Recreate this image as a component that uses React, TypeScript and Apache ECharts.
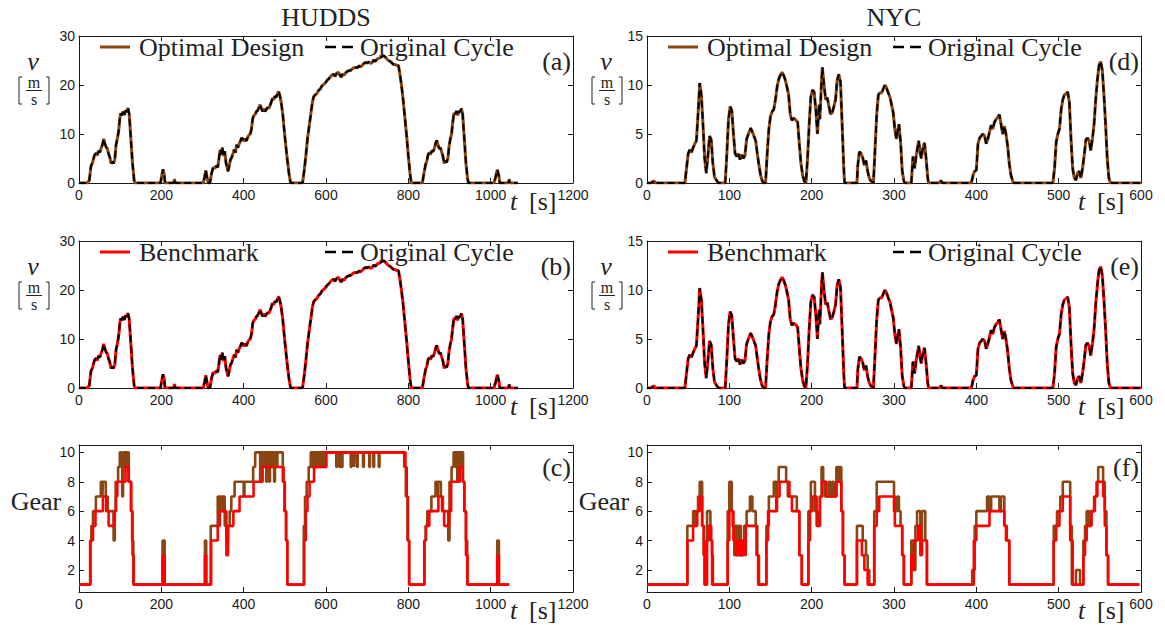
import React, { useEffect, useRef } from "react";
import * as echarts from "echarts";

// ---------- DATA ----------
const cycleTitles = ["HUDDS", "NYC"];
const panelLetters = ["(a)", "(b)", "(c)", "(d)", "(e)", "(f)"];
const huddsTimeTicks = { min: 0, max: 1200, interval: 200 };
const nycTimeTicks = { min: 0, max: 600, interval: 100 };
const huddsSpeedTicks = { min: 0, max: 30, interval: 10 };
const nycSpeedTicks = { min: 0, max: 15, interval: 5 };
const gearTicks = [2, 4, 6, 8, 10];

// HUDDS speed trace [t s, v m/s]
const huddsVelocity: [number, number][] = [
  [0, 0], [20, 0], [25, 0.5], [29, 3.4], [33, 4.2], [37, 5.5], [41, 6.1], [44, 5.6], [47, 6.5], [51, 6.3], [54, 7.2], [57, 7.8], [60, 9.0], [63, 8.0], [66, 7.3], [69, 7.0], [72, 5.9], [75, 5.2], [78, 4.0], [81, 4.4], [84, 4.0], [87, 4.8], [90, 7.8], [93, 9.0], [96, 10.4], [99, 13.0], [101, 14.2], [104, 13.8], [107, 14.6], [110, 13.9], [113, 14.8], [116, 14.5], [119, 15.3], [122, 14.0], [126, 9.0], [130, 4.0], [134, 0.5], [136, 0],
  [198, 0], [201, 1.5], [204, 2.8], [207, 1.8], [209, 0], [230, 0], [232, 0.8], [234, 0],
  [302, 0], [305, 1.2], [308, 2.6], [311, 1.2], [314, 0], [318, 0], [322, 2.0], [326, 3.2], [330, 3.0], [334, 3.5], [337, 3.2], [340, 5.0], [343, 6.8], [346, 5.8], [348, 7.2], [351, 5.5], [354, 6.5], [357, 4.2], [360, 3.0], [362, 2.4], [365, 3.5], [368, 4.8], [371, 5.2], [374, 6.0], [377, 6.8], [380, 6.2], [383, 7.8], [386, 7.2], [389, 8.0], [392, 8.5], [395, 9.2], [398, 9.0], [401, 8.5], [404, 9.0], [407, 8.6], [410, 9.4], [413, 9.8], [416, 10.0], [419, 11.0], [422, 13.2], [425, 13.8], [428, 14.0], [431, 14.6], [434, 14.8], [437, 15.4], [440, 16.0], [443, 15.2], [446, 14.6], [449, 15.2], [452, 14.6], [455, 15.0], [458, 15.4], [461, 15.2], [464, 15.8], [467, 16.5], [470, 17.3], [473, 17.0], [476, 17.7], [479, 17.5], [482, 18.2], [485, 18.7], [488, 17.8], [491, 16.5], [495, 14.0], [500, 9.5], [505, 5.5], [510, 2.0], [514, 0],
  [543, 0], [547, 2.5], [551, 5.5], [555, 9.0], [559, 11.5], [563, 14.0], [567, 16.5], [570, 17.6], [574, 18.0], [578, 18.3], [582, 18.9], [586, 19.2], [590, 19.8], [594, 20.1], [598, 20.4], [602, 20.9], [606, 21.2], [610, 21.6], [614, 22.0], [618, 22.2], [622, 21.8], [626, 22.4], [630, 22.6], [634, 22.0], [637, 21.6], [640, 22.2], [644, 22.0], [648, 22.5], [652, 22.8], [656, 22.9], [660, 23.0], [664, 23.3], [668, 23.5], [672, 23.6], [676, 23.5], [680, 23.9], [684, 23.7], [688, 24.0], [692, 24.4], [696, 24.6], [700, 24.5], [704, 24.7], [708, 24.4], [712, 24.6], [716, 25.1], [720, 24.8], [724, 25.3], [728, 25.4], [732, 25.6], [736, 25.8], [740, 26.0], [744, 25.7], [748, 25.3], [752, 25.0], [756, 24.8], [760, 24.5], [764, 24.2], [768, 24.2], [772, 24.0], [776, 24.0], [780, 22.0], [784, 19.5], [788, 16.5], [792, 13.0], [796, 9.5], [800, 5.5], [804, 2.0], [807, 0],
  [834, 0], [838, 2.0], [842, 3.8], [845, 4.5], [848, 5.8], [851, 6.2], [854, 5.8], [857, 6.6], [860, 6.4], [863, 7.0], [866, 8.0], [869, 8.7], [872, 7.8], [875, 7.0], [878, 7.2], [881, 6.3], [884, 5.5], [887, 4.0], [890, 4.5], [893, 4.2], [896, 5.0], [899, 7.5], [902, 9.0], [905, 10.0], [908, 12.5], [911, 14.3], [914, 14.0], [917, 14.7], [920, 13.8], [923, 14.6], [926, 14.5], [929, 15.2], [932, 14.0], [936, 9.0], [940, 4.0], [944, 0.8], [946, 0],
  [1008, 0], [1012, 1.2], [1016, 2.7], [1020, 1.5], [1022, 0], [1043, 0], [1045, 0.7], [1047, 0], [1066, 0],
];

// NYC speed trace [t s, v m/s]
const nycVelocity: [number, number][] = [
  [0, 0], [5, 0], [8, 0.2], [11, 0], [46, 0], [48, 1.5], [50, 3.0], [52, 3.4], [54, 3.1], [56, 3.6], [58, 4.0], [60, 4.3], [62, 7.0], [64, 10.2], [66, 9.0], [68, 6.0], [70, 2.5], [72, 1.0], [74, 2.8], [76, 4.8], [78, 4.4], [80, 2.0], [82, 0.6], [85, 0.2], [87, 0],
  [95, 0], [97, 3.0], [99, 6.5], [101, 7.8], [103, 7.4], [105, 5.0], [107, 3.0], [109, 2.7], [111, 3.0], [113, 2.4], [115, 2.9], [117, 2.5], [119, 2.8], [121, 4.5], [124, 5.2], [126, 5.6], [129, 5.0], [132, 4.3], [134, 3.0], [136, 1.8], [138, 0.8], [140, 0.2], [142, 0],
  [144, 0], [146, 3.0], [148, 5.5], [150, 6.8], [152, 7.3], [154, 7.5], [156, 8.5], [158, 9.8], [160, 10.6], [162, 11.0], [164, 11.3], [166, 11.0], [168, 10.5], [170, 9.8], [172, 9.0], [174, 7.0], [176, 6.4], [178, 6.6], [180, 6.5], [183, 6.2], [185, 4.0], [187, 2.0], [189, 0.8], [191, 0.2], [193, 0],
  [195, 2.5], [197, 6.0], [199, 8.8], [201, 9.5], [203, 9.3], [205, 7.5], [207, 5.0], [209, 8.0], [210, 6.5], [212, 10.5], [213, 11.8], [215, 10.0], [217, 8.5], [219, 8.7], [221, 7.8], [223, 7.0], [225, 7.2], [227, 7.8], [229, 8.5], [231, 10.5], [233, 11.1], [235, 10.3], [237, 6.0], [239, 1.5], [240, 0],
  [255, 0], [256, 1.8], [258, 3.2], [260, 3.0], [262, 2.6], [264, 1.8], [266, 2.3], [268, 1.2], [270, 0.5], [272, 0.2], [275, 0],
  [277, 3.5], [279, 7.0], [281, 9.0], [283, 9.2], [285, 9.2], [287, 9.6], [289, 10.0], [291, 9.7], [293, 9.2], [295, 8.8], [297, 8.0], [299, 7.2], [301, 5.5], [303, 4.5], [305, 5.5], [306, 6.0], [308, 4.2], [310, 1.2], [312, 0.2], [313, 0],
  [321, 0], [323, 2.7], [325, 1.5], [327, 2.8], [329, 3.8], [330, 4.3], [332, 3.0], [333, 2.5], [335, 3.5], [337, 4.1], [339, 2.5], [341, 0.5], [342, 0], [355, 0], [357, 0.25], [359, 0],
  [394, 0], [396, 0.8], [398, 1.2], [400, 1.3], [402, 4.0], [404, 4.6], [406, 4.8], [408, 5.0], [410, 4.8], [412, 4.0], [414, 4.5], [416, 5.2], [418, 5.9], [420, 5.5], [422, 6.2], [424, 6.5], [426, 6.7], [428, 7.0], [430, 6.0], [432, 5.0], [434, 5.8], [436, 5.0], [438, 3.8], [440, 2.0], [442, 0.8], [445, 0],
  [493, 0], [495, 1.5], [497, 4.2], [499, 5.0], [501, 5.5], [503, 7.5], [505, 8.5], [507, 9.0], [509, 9.1], [511, 9.3], [513, 8.2], [515, 4.5], [517, 1.5], [519, 0.5], [521, 0.3], [523, 1.0], [525, 1.2], [527, 0.5], [529, 1.5], [531, 2.8], [533, 4.4], [535, 4.6], [537, 4.3], [539, 3.3], [541, 4.5], [543, 6.0], [545, 8.5], [547, 10.5], [549, 12.0], [551, 12.4], [553, 11.5], [555, 9.0], [557, 6.0], [559, 2.5], [561, 0.5], [563, 0], [600, 0],
];

// Gear change points [t s, gear held from t]
const huddsGearBenchmark: [number, number][] = [
  [0, 1], [28, 4], [34, 5], [40, 6], [58, 7], [66, 6], [72, 5], [85, 6], [90, 7], [93, 8], [113, 9], [120, 8], [127, 6], [130, 3], [133, 1],
  [203, 3], [208, 1],
  [306, 3], [309, 1], [321, 4], [337, 5], [342, 6], [358, 3], [362, 5], [375, 6], [390, 7], [424, 8], [446, 9], [497, 8], [500, 6], [503, 4], [506, 1],
  [547, 4], [551, 6], [555, 7], [560, 8], [571, 9], [601, 10], [793, 9], [796, 7], [799, 4], [802, 1],
  [839, 4], [843, 5], [851, 6], [873, 7], [882, 6], [887, 5], [899, 6], [904, 8], [925, 9], [932, 8], [936, 6], [940, 3], [944, 1],
  [1016, 3], [1020, 1], [1045, 1],
];
const huddsGearOptimal: [number, number][] = [
  [0, 1], [27, 4], [30, 5], [34, 6], [41, 7], [53, 8], [57, 7], [58, 8], [65, 7], [70, 6], [84, 4], [87, 6], [89, 8], [95, 9], [99, 10], [103, 9], [105, 7], [107, 10], [111, 9], [113, 10], [117, 9], [119, 10], [121, 8], [126, 6], [129, 4], [132, 1],
  [203, 4], [208, 1],
  [306, 4], [309, 1], [320, 5], [337, 7], [339, 6], [341, 7], [343, 6], [345, 7], [348, 6], [350, 7], [354, 5], [358, 4], [362, 5], [366, 6], [370, 7], [378, 8], [400, 7], [402, 8], [423, 9], [428, 10], [440, 8], [442, 10], [447, 9], [449, 10], [455, 8], [457, 10], [462, 8], [464, 10], [468, 9], [470, 10], [474, 8], [476, 10], [480, 9], [482, 10], [495, 8], [499, 6], [503, 4], [506, 1],
  [546, 5], [549, 7], [553, 8], [558, 9], [563, 10], [566, 9], [568, 10], [571, 9], [573, 10], [576, 9], [578, 10], [581, 9], [583, 10], [586, 9], [588, 10], [591, 9], [592, 10], [596, 9], [598, 10], [625, 9], [627, 10], [633, 9], [635, 10], [638, 9], [640, 10], [660, 9], [662, 10], [668, 9], [669, 10], [675, 9], [677, 10], [690, 9], [692, 10], [705, 9], [707, 10], [715, 9], [717, 10], [728, 9], [730, 10], [790, 9], [794, 7], [798, 4], [802, 1],
  [839, 4], [842, 5], [846, 6], [856, 7], [866, 8], [870, 7], [872, 8], [879, 7], [884, 6], [897, 4], [900, 8], [905, 9], [910, 10], [914, 9], [916, 10], [919, 8], [921, 10], [925, 9], [927, 10], [933, 8], [936, 6], [940, 4], [943, 1],
  [1016, 4], [1020, 1], [1045, 1],
];
const nycGearBenchmark: [number, number][] = [
  [0, 1], [49, 4], [56, 5], [61, 6], [64, 7], [67, 5], [69, 3], [70, 1], [73, 4], [75, 5], [78, 4], [79, 3], [80, 1],
  [98, 4], [100, 6], [105, 4], [108, 3], [109, 4], [111, 3], [113, 4], [115, 3], [117, 4], [119, 3], [120, 5], [133, 3], [135, 1],
  [145, 4], [147, 6], [157, 7], [161, 8], [173, 7], [176, 6], [185, 3], [188, 1],
  [196, 4], [198, 6], [201, 7], [206, 5], [210, 7], [213, 8], [218, 7], [230, 8], [236, 6], [238, 3], [240, 1],
  [255, 4], [261, 3], [264, 2], [268, 1], [276, 5], [279, 6], [282, 7], [300, 6], [301, 5], [310, 3], [312, 1],
  [321, 3], [323, 2], [325, 4], [329, 5], [332, 3], [334, 4], [340, 1],
  [397, 4], [400, 5], [416, 6], [434, 5], [436, 4], [440, 1],
  [494, 4], [497, 5], [501, 6], [505, 7], [514, 4], [517, 1], [530, 3], [532, 4], [534, 5], [540, 6], [544, 7], [547, 8], [554, 7], [556, 5], [558, 3], [560, 1], [598, 1],
];
const nycGearOptimal: [number, number][] = [
  [0, 1], [49, 5], [56, 6], [58, 5], [59, 6], [62, 7], [64, 8], [67, 5], [69, 3], [70, 1], [72, 4], [73, 6], [77, 4], [79, 1],
  [98, 6], [100, 8], [103, 6], [104, 5], [106, 3], [107, 5], [109, 3], [110, 5], [112, 3], [113, 5], [114, 3], [116, 4], [118, 5], [121, 6], [125, 7], [128, 6], [132, 5], [134, 3], [136, 1],
  [145, 5], [148, 7], [154, 8], [157, 6], [158, 8], [160, 9], [169, 8], [171, 7], [182, 6], [185, 3], [188, 1],
  [196, 6], [199, 8], [204, 6], [207, 5], [210, 7], [212, 9], [214, 8], [216, 7], [221, 8], [223, 7], [225, 8], [227, 7], [230, 9], [233, 8], [234, 9], [236, 6], [238, 3], [240, 1],
  [255, 5], [262, 4], [266, 3], [268, 2], [270, 1], [276, 6], [279, 8], [300, 7], [302, 6], [304, 7], [306, 6], [308, 5], [310, 3], [312, 1],
  [321, 4], [324, 2], [326, 5], [328, 6], [332, 4], [334, 6], [338, 4], [340, 1],
  [395, 2], [398, 5], [400, 6], [413, 7], [416, 6], [418, 7], [428, 6], [430, 7], [434, 5], [437, 4], [440, 1],
  [494, 5], [498, 6], [502, 7], [505, 8], [514, 5], [516, 1], [521, 2], [526, 1], [530, 4], [532, 5], [534, 6], [537, 5], [539, 6], [543, 7], [546, 8], [548, 9], [554, 8], [556, 6], [558, 3], [560, 1], [598, 1],
];

// ---------- STYLE / LAYOUT ----------
const BROWN = "#8B4513";
const RED = "#FF0000";
const INK = "#1a1a1a";
const SERIF = "'Liberation Serif', 'Times New Roman', serif";
const SANS = "'Liberation Sans', Arial, sans-serif";

const PW = 494;
const PH = 147;
const LEFTS = [79, 647];
const TOPS = [36, 241, 445];

type Panel = { col: number; row: number; kind: "speed" | "gear" };
const panels: Panel[] = [
  { col: 0, row: 0, kind: "speed" },
  { col: 0, row: 1, kind: "speed" },
  { col: 0, row: 2, kind: "gear" },
  { col: 1, row: 0, kind: "speed" },
  { col: 1, row: 1, kind: "speed" },
  { col: 1, row: 2, kind: "gear" },
];

function txt(text: string, x: number, y: number, font: string, align = "left") {
  return {
    type: "text", x, y,
    style: { text, font, fill: "#222", textAlign: align, textVerticalAlign: "middle", align, verticalAlign: "middle" },
  };
}

function buildOption() {
  const grid: any[] = [];
  const xAxis: any[] = [];
  const yAxis: any[] = [];
  const series: any[] = [];
  const graphic: any[] = [];

  const tickCommon = { show: true, inside: true, length: 5, lineStyle: { color: INK, width: 1 } };
  const lineCommon = { show: true, onZero: false, lineStyle: { color: INK, width: 1 } };

  panels.forEach((p, i) => {
    const left = LEFTS[p.col];
    const top = TOPS[p.row];
    grid.push({ left, top, width: PW, height: PH, containLabel: false });
    const tt = p.col === 0 ? huddsTimeTicks : nycTimeTicks;
    const xBase = { type: "value", gridIndex: i, min: tt.min, max: tt.max, interval: tt.interval, splitLine: { show: false }, axisLine: lineCommon, axisTick: tickCommon };
    xAxis.push({ ...xBase, position: "bottom", axisLabel: { show: true, color: INK, fontFamily: SANS, fontSize: 14, margin: 5, formatter: (v: number) => String(v) } });
    xAxis.push({ ...xBase, position: "top", axisLabel: { show: false } });

    let yBase: any;
    if (p.kind === "speed") {
      const st = p.col === 0 ? huddsSpeedTicks : nycSpeedTicks;
      yBase = { type: "value", gridIndex: i, min: st.min, max: st.max, interval: st.interval, splitLine: { show: false }, axisLine: lineCommon, axisTick: tickCommon };
    } else {
      yBase = {
        type: "value", gridIndex: i, min: 0.5, max: 10.5, splitLine: { show: false }, axisLine: lineCommon,
        axisTick: { ...tickCommon, customValues: gearTicks },
      };
    }
    const yLabel: any = { show: true, color: INK, fontFamily: SANS, fontSize: 14, margin: 4, formatter: (v: number) => String(v) };
    if (p.kind === "gear") yLabel.customValues = gearTicks;
    yAxis.push({ ...yBase, position: "left", axisLabel: yLabel });
    yAxis.push({ ...yBase, position: "right", axisLabel: { show: false } });

    const xi = 2 * i;
    const vel = p.col === 0 ? huddsVelocity : nycVelocity;
    if (p.kind === "speed") {
      const matched = p.row === 0
        ? { name: "Optimal Design", color: BROWN }
        : { name: "Benchmark", color: RED };
      series.push({
        type: "line", name: matched.name, xAxisIndex: xi, yAxisIndex: xi, data: vel,
        showSymbol: false, symbol: "none", z: 2,
        lineStyle: { color: matched.color, width: 3 }, itemStyle: { color: matched.color },
      });
      series.push({
        type: "line", name: "Original Cycle", xAxisIndex: xi, yAxisIndex: xi, data: vel,
        showSymbol: false, symbol: "none", z: 3,
        lineStyle: { color: "#000", width: 2, type: [7, 4] }, itemStyle: { color: "#000" },
      });
      // legend drawn as graphic: line sample + label
      const ly = top + 11;
      graphic.push({
        type: "line", shape: { x1: left + 21, y1: ly, x2: left + 51, y2: ly },
        style: { stroke: matched.color, lineWidth: 3 },
      });
      graphic.push(txt(matched.name, left + 60, ly, `26px ${SERIF}`));
      graphic.push({
        type: "line", shape: { x1: left + 246, y1: ly, x2: left + 276, y2: ly },
        style: { stroke: "#000", lineWidth: 2.5, lineDash: [11, 6] },
      });
      graphic.push(txt("Original Cycle", left + 281, ly, `26px ${SERIF}`));
    } else {
      const opt = p.col === 0 ? huddsGearOptimal : nycGearOptimal;
      const ben = p.col === 0 ? huddsGearBenchmark : nycGearBenchmark;
      series.push({
        type: "line", name: "Optimal Design gear", xAxisIndex: xi, yAxisIndex: xi, data: opt, step: "end",
        showSymbol: false, symbol: "none", z: 2, lineStyle: { color: BROWN, width: 2.6 },
      });
      series.push({
        type: "line", name: "Benchmark gear", xAxisIndex: xi, yAxisIndex: xi, data: ben, step: "end",
        showSymbol: false, symbol: "none", z: 3, lineStyle: { color: RED, width: 2.6 },
      });
    }

    const right = left + PW;
    const bottom = top + PH;
    graphic.push(txt(panelLetters[i], right - 2, top + (p.kind === "speed" ? 25 : 22), `26px ${SERIF}`, "right"));
    graphic.push(txt("t", right - 63, bottom + 18, `italic 26px ${SERIF}`));
    graphic.push(txt("[s]", right - 44, bottom + 18, `26px ${SERIF}`));

    if (p.kind === "speed") {
      const cx = p.col === 0 ? left - 45 : left - 40;
      graphic.push(txt("v", cx - 1, top + 25, `italic 26px ${SERIF}`, "center"));
      graphic.push(txt("m", cx, top + 46, `16px ${SERIF}`, "center"));
      graphic.push({
        type: "line", shape: { x1: cx - 8, y1: top + 54.5, x2: cx + 8, y2: top + 54.5 },
        style: { stroke: "#222", lineWidth: 1 },
      });
      graphic.push(txt("s", cx, top + 63, `16px ${SERIF}`, "center"));
      graphic.push({
        type: "polyline",
        shape: { points: [[cx - 12, top + 41], [cx - 15, top + 41], [cx - 15, top + 68], [cx - 12, top + 68]] },
        style: { stroke: "#222", lineWidth: 1, fill: null },
      });
      graphic.push({
        type: "polyline",
        shape: { points: [[cx + 12, top + 41], [cx + 15, top + 41], [cx + 15, top + 68], [cx + 12, top + 68]] },
        style: { stroke: "#222", lineWidth: 1, fill: null },
      });
    } else {
      graphic.push(txt("Gear", left - 43, top + 56, `26px ${SERIF}`, "center"));
    }
  });

  cycleTitles.forEach((t, c) => {
    graphic.push(txt(t, LEFTS[c] + PW / 2, 17, `26px ${SERIF}`, "center"));
  });

  return {
    animation: false,
    backgroundColor: "#fff",
    grid, xAxis, yAxis, series, graphic,
  };
}

export default function App() {
  const ref = useRef<HTMLDivElement>(null);
  useEffect(() => {
    if (!ref.current) return;
    const chart = echarts.init(ref.current, null, { renderer: "svg" });
    chart.setOption(buildOption() as any);
    return () => chart.dispose();
  }, []);
  return (
    <div
      ref={ref}
      style={{ position: "absolute", left: 0, top: 0, width: 1165, height: 625, background: "#fff" }}
    />
  );
}
